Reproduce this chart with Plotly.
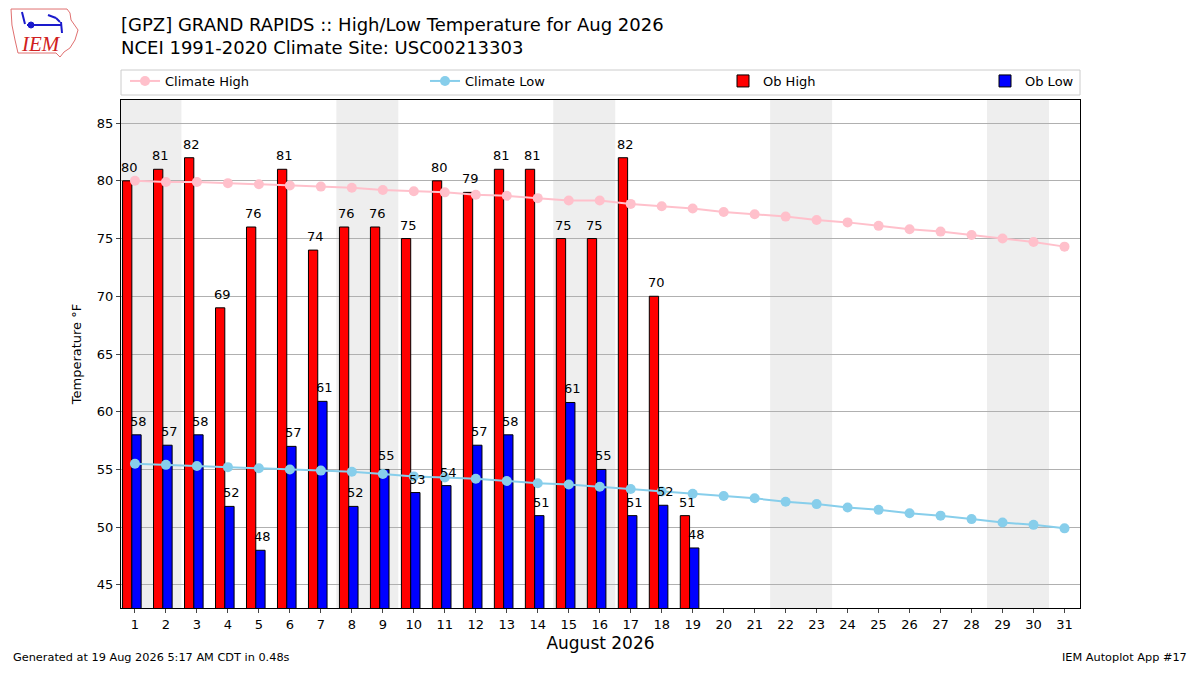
import datetime
import plotly.graph_objects as go

# daily obs for Aug 2026 (thru the 19th)
days = list(range(1, 32))
ob_days = list(range(1, 20))
ob_high = [80, 81, 82, 69, 76, 81, 74, 76, 76, 75, 80, 79, 81, 81, 75, 75, 82, 70, 51]
ob_low = [58.0, 57.1, 58.0, 51.8, 48.0, 57.0, 60.9, 51.8, 55.0, 53.0, 53.6, 57.1, 58.0, 51.0,
          60.8, 55.0, 51.0, 51.9, 48.2]

# NCEI 1991-2020 climatology
clim_high = [80.0, 79.9, 79.9, 79.8, 79.7, 79.6, 79.5, 79.4, 79.2, 79.1, 79.0, 78.8, 78.7, 78.5,
             78.3, 78.3, 78.0, 77.8, 77.6, 77.3, 77.1, 76.9, 76.6, 76.4, 76.1, 75.8, 75.6, 75.3,
             75.0, 74.7, 74.3]
clim_low = [55.5, 55.4, 55.3, 55.2, 55.1, 55.0, 54.9, 54.8, 54.6, 54.4, 54.3, 54.2, 54.0, 53.8,
            53.7, 53.5, 53.3, 53.1, 52.9, 52.7, 52.5, 52.2, 52.0, 51.7, 51.5, 51.2, 51.0, 50.7,
            50.4, 50.2, 49.9]
yticks = [45, 50, 55, 60, 65, 70, 75, 80, 85]

# page is drawn with an 8px body margin, so the figure is 16px smaller
W, H = 1184, 659
ML, MT = 113, 92
PW, PH = 959, 508


def px(x):
    # page pixel -> paper x
    return (x - 8 - ML) / PW


def py(y):
    # page pixel -> paper y
    return 1 + (MT - (y - 8)) / PH


fig = go.Figure()

# weekend shading
for d in days:
    if datetime.date(2026, 8, d).weekday() == 5:
        fig.add_vrect(x0=d - 0.5, x1=d + 1.5, fillcolor="#eeeeee", line_width=0, layer="below")

fig.add_trace(go.Bar(x=ob_days, y=ob_high, offset=-0.4, width=0.3, name="Ob High",
                     marker=dict(color="red", line=dict(color="black", width=1)),
                     legend="legend3"))
fig.add_trace(go.Bar(x=ob_days, y=ob_low, offset=-0.1, width=0.3, name="Ob Low",
                     marker=dict(color="blue", line=dict(color="black", width=1)),
                     legend="legend4"))
fig.add_trace(go.Scatter(x=days, y=clim_high, mode="lines+markers", name="Climate High",
                         line=dict(color="pink", width=2), marker=dict(size=10, color="pink"),
                         legend="legend"))
fig.add_trace(go.Scatter(x=days, y=clim_low, mode="lines+markers", name="Climate Low",
                         line=dict(color="skyblue", width=2), marker=dict(size=10, color="skyblue"),
                         legend="legend2"))

# value labels
for d, v in zip(ob_days, ob_high):
    fig.add_annotation(x=d - 0.17, y=v, text="%.0f" % v, showarrow=False, yanchor="bottom",
                       yshift=4, font=dict(size=13))
for d, v in zip(ob_days, ob_low):
    fig.add_annotation(x=d + 0.13, y=v, text="%.0f" % v, showarrow=False, yanchor="bottom",
                       yshift=4, font=dict(size=13))

leg = dict(orientation="h", yanchor="middle", y=py(81), xanchor="left",
           bgcolor="rgba(0,0,0,0)", borderwidth=0, font=dict(size=13))

fig.update_layout(
    width=W, height=H,
    barmode="overlay",
    showlegend=True,
    paper_bgcolor="white", plot_bgcolor="white",
    font=dict(family="DejaVu Sans", size=13, color="black"),
    margin=dict(l=ML, r=W - ML - PW, t=MT, b=H - MT - PH),
    legend=dict(leg, x=px(125)),
    legend2=dict(leg, x=px(425)),
    legend3=dict(leg, x=px(723)),
    legend4=dict(leg, x=px(985)),
    xaxis=dict(range=[0.55, 31.5], tickmode="array", tickvals=days,
               ticks="outside", ticklen=4, showgrid=False, zeroline=False,
               showline=True, linecolor="black", mirror=True,
               title=dict(text="August 2026", font=dict(size=17), standoff=6)),
    yaxis=dict(range=[43, 87], tickmode="array", tickvals=yticks,
               ticks="outside", ticklen=4, showgrid=True, gridcolor="#b0b0b0",
               zeroline=False, showline=True, linecolor="black", mirror=True,
               title=dict(text="Temperature °F", font=dict(size=13), standoff=12)),
)

# legend frame
fig.add_shape(type="rect", xref="paper", yref="paper", x0=0, x1=1, y0=py(95), y1=py(70),
              line=dict(color="#cccccc", width=1), fillcolor="white", layer="below")

# titles
fig.add_annotation(text="[GPZ] GRAND RAPIDS :: High/Low Temperature for Aug 2026<br>"
                        "NCEI 1991-2020 Climate Site: USC00213303",
                   xref="paper", yref="paper", x=px(119), y=py(12), xanchor="left",
                   yanchor="top", showarrow=False, align="left", font=dict(size=18))

# footer
fig.add_annotation(text="Generated at 19 Aug 2026 5:17 AM CDT in 0.48s", xref="paper",
                   yref="paper", x=px(11), y=py(666), xanchor="left", yanchor="bottom",
                   showarrow=False, font=dict(size=11.3))
fig.add_annotation(text="IEM Autoplot App #17", xref="paper", yref="paper", x=px(1189),
                   y=py(666), xanchor="right", yanchor="bottom",
                   showarrow=False, font=dict(size=11.3))

# rough IEM logo
outline = [(11, 9), (67, 9), (70, 13), (71, 20), (78, 30), (75, 40), (70, 48), (64, 52),
           (60, 57), (56, 53), (18, 53), (15, 40), (12, 25)]
path = "M " + " L ".join("%.4f,%.4f" % (px(a), py(b)) for a, b in outline) + " Z"
fig.add_shape(type="path", xref="paper", yref="paper", path=path,
              line=dict(color="#e07070", width=1), fillcolor="white")
for (a, b, c, e) in [(22, 12, 25, 24), (27, 25, 62, 25), (48, 15, 56, 18), (61, 22, 62, 33),
                     (56, 18, 60, 22)]:
    fig.add_shape(type="line", xref="paper", yref="paper", x0=px(a), y0=py(b), x1=px(c),
                  y1=py(e), line=dict(color="#1a1acc", width=2))
fig.add_shape(type="circle", xref="paper", yref="paper", x0=px(28), x1=px(34), y0=py(22),
              y1=py(28), line=dict(color="#1a1acc", width=1), fillcolor="#1a1acc")
fig.add_annotation(text="<i>IEM</i>", xref="paper", yref="paper", x=px(19), y=py(44),
                   xanchor="left", yanchor="middle", showarrow=False,
                   font=dict(family="Liberation Serif", size=21, color="#d02020"))

fig.write_html("out.html")
